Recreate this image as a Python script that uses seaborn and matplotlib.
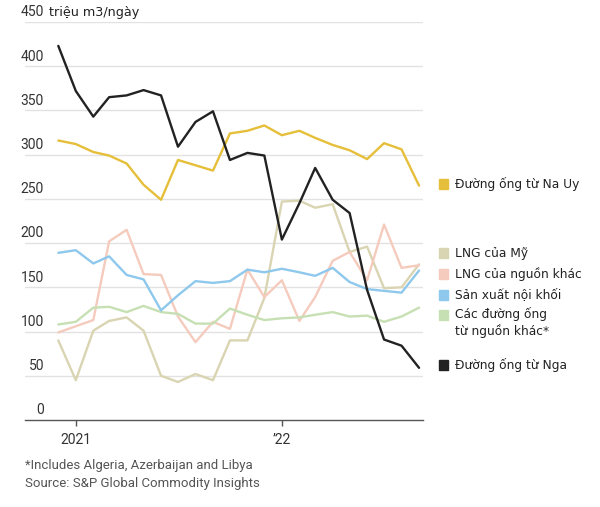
import pandas as pd
import matplotlib
matplotlib.use("Agg")
import matplotlib.pyplot as plt
from matplotlib.patches import Rectangle
import seaborn as sns

sns.set_theme(style="white")
plt.rcParams['font.family'] = ['DejaVu Sans']

# Datos mensuales, dic 2020 - sep 2022 (triệu m3/ngày)
months = pd.date_range("2020-12-01", "2022-09-01", freq="MS")

nga = [423, 372, 343, 365, 367, 373, 367, 309, 337, 349, 294, 302, 299, 204, 245,
       285, 249, 234, 147, 91, 84, 59]
na_uy = [316, 312, 303, 299, 290, 266, 249, 294, 288, 282, 324, 327, 333, 322, 327,
         319, 311, 305, 295, 313, 306, 265]
noi_khoi = [189, 192, 177, 185, 164, 159, 124, 141, 157, 155, 157, 170, 167, 171, 167,
            163, 172, 156, 148, 146, 144, 169]
lng_khac = [99, 106, 113, 202, 215, 165, 164, 117, 88, 111, 103, 170, 139, 158, 112,
            139, 180, 190, 158, 221, 172, 175]
ong_khac = [108, 111, 127, 128, 122, 129, 122, 120, 109, 109, 126, 119, 113, 115, 116,
            119, 122, 117, 118, 111, 117, 127]
lng_my = [90, 45, 101, 112, 116, 101, 50, 43, 52, 45, 90, 90, 138, 247, 248,
          240, 244, 190, 196, 149, 150, 176]

series = {
    "LNG của Mỹ": (lng_my, "#d9d4b1"),
    "LNG của nguồn khác": (lng_khac, "#f5cbbd"),
    "Các đường ống khác": (ong_khac, "#c6e0b4"),
    "Sản xuất nội khối": (noi_khoi, "#8ec8ec"),
    "Đường ống từ Na Uy": (na_uy, "#e6bf3a"),
    "Đường ống từ Nga": (nga, "#222222"),
}

fig = plt.figure(figsize=(6.0, 5.07), dpi=100)
ax = fig.add_axes([25 / 600, 1 - 420 / 507, 398 / 600, 398 / 507])

for name, (vals, color) in series.items():
    df = pd.DataFrame({"month": months, "value": vals})
    sns.lineplot(data=df, x="month", y="value", color=color, linewidth=1.7, ax=ax)

ax.set_ylim(0, 450)
ax.set_xlim(pd.Timestamp("2020-10-03"), pd.Timestamp("2022-09-08"))
ax.set_xlabel("")
ax.set_ylabel("")

# luoi horizontal
for v in range(50, 451, 50):
    ax.axhline(v, color="#e2e2e2", linewidth=1, zorder=0)
for s in ["top", "right", "left"]:
    ax.spines[s].set_visible(False)
ax.spines["bottom"].set_color("#555555")
ax.spines["bottom"].set_linewidth(1)

ax.set_yticks([])
ytrans = matplotlib.transforms.blended_transform_factory(ax.transAxes, ax.transData)
for v in range(0, 451, 50):
    ax.text(19 / 398, v + 3, str(v), transform=ytrans, ha="right", va="bottom",
            fontsize=10, color="#333333", family="Roboto")
ax.text(24 / 398, 453, "triệu m3/ngày", transform=ytrans, ha="left", va="bottom",
        fontsize=9.2, color="#222222")

ax.set_xticks([pd.Timestamp("2021-01-01"), pd.Timestamp("2022-01-01")])
ax.set_xticklabels(["2021", "’22"], family="Roboto", fontsize=10, color="#333333")
ax.tick_params(axis="x", direction="out", length=4, width=1, color="#555555", pad=5,
               bottom=True)

# leyenda manual
legend_items = [
    ("Đường ống từ Na Uy", "#e6bf3a", 184),
    ("LNG của Mỹ", "#d9d4b1", 253),
    ("LNG của nguồn khác", "#f5cbbd", 274),
    ("Sản xuất nội khối", "#8ec8ec", 295),
    ("Các đường ống\ntừ nguồn khác*", "#c6e0b4", 315),
    ("Đường ống từ Nga", "#222222", 365),
]
for label, color, ypix in legend_items:
    fig.patches.append(Rectangle((439 / 600, 1 - (ypix + 5) / 507), 9 / 600, 10 / 507,
                                 transform=fig.transFigure, color=color))
    if "\n" in label:
        fig.text(455 / 600, 1 - (ypix - 8) / 507, label, fontsize=8.8, color="#222222",
                 va="top", linespacing=1.3)
    else:
        fig.text(455 / 600, 1 - ypix / 507, label, fontsize=8.8, color="#222222",
                 va="center")

fig.text(25 / 600, 1 - 465 / 507, "*Includes Algeria, Azerbaijan and Libya",
         fontsize=9.5, color="#555555", va="center", family="Roboto")
fig.text(25 / 600, 1 - 484 / 507, "Source: S&P Global Commodity Insights",
         fontsize=9.5, color="#555555", va="center", family="Roboto")

fig.savefig("out.png", dpi=100)
